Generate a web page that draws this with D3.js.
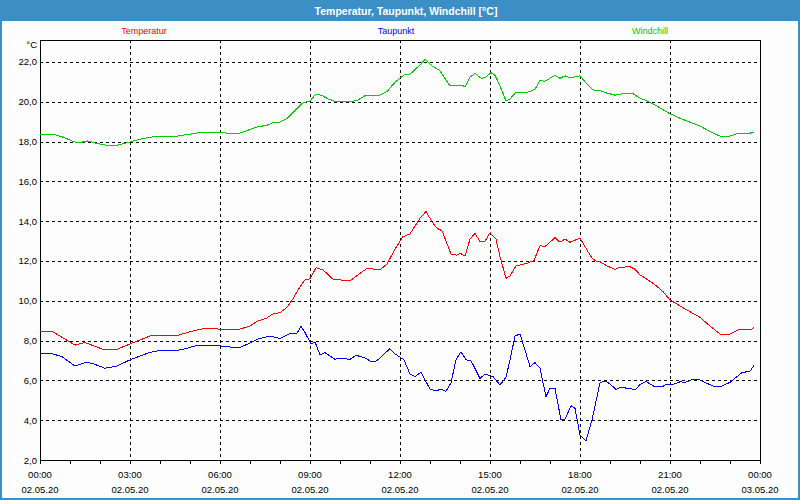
<!DOCTYPE html>
<html>
<head lang="de">
    <meta charset="UTF-8">
    <title>Temperatur, Taupunkt, Windchill</title>
    <script src="https://cdn.jsdelivr.net/npm/d3@7/dist/d3.min.js"></script>
    <style>
        body { margin: 0; background: #fff; }
        text { font-family: "Liberation Sans", Arial, sans-serif; }
    </style>
</head>
<body>

<script>

    // minutes since 02.05.20 00:00 and values in degrees C
    var tempTimes = [0,24,70,90,126,154,180,220,240,274,294,320,340,360,394,420,434,454,466,480,494,506,520,530,540,552,566,586,620,654,680,694,710,726,740,760,772,784,794,804,822,834,840,850,860,870,880,890,900,912,920,932,940,952,974,988,1000,1010,1030,1040,1050,1060,1080,1094,1104,1114,1120,1134,1150,1160,1180,1190,1200,1214,1230,1246,1260,1280,1300,1320,1340,1360,1380,1400,1420,1428];
    var temperatur = [8.47,8.47,7.77,7.9,7.56,7.56,7.83,8.23,8.25,8.25,8.4,8.57,8.62,8.57,8.53,8.73,8.97,9.14,9.34,9.4,9.67,10.1,10.7,11.05,11.1,11.66,11.55,11.08,11.0,11.63,11.55,11.85,12.59,13.22,13.36,14.15,14.48,13.97,13.64,13.52,12.35,12.29,12.39,12.25,13.09,13.39,12.97,12.99,13.42,13.09,12.22,11.13,11.25,11.75,11.88,12.02,12.77,12.72,13.17,12.94,13.1,12.94,13.14,12.55,12.14,11.96,11.96,11.75,11.58,11.68,11.71,11.58,11.3,11.08,10.8,10.46,10.04,9.74,9.45,9.17,8.73,8.33,8.33,8.57,8.53,8.65];

    var taupTimes = [0,26,44,70,92,106,130,154,180,220,240,274,294,314,340,360,386,400,414,434,460,480,502,514,522,530,542,550,560,570,590,600,620,632,650,664,674,686,700,710,728,740,750,762,770,780,790,802,812,822,832,842,852,862,880,890,906,920,932,940,950,960,970,980,990,1000,1012,1020,1030,1042,1050,1062,1070,1080,1092,1104,1114,1120,1130,1140,1152,1164,1176,1192,1200,1212,1230,1244,1250,1264,1280,1290,1306,1320,1334,1350,1360,1380,1394,1404,1420,1428];
    var taupunkt = [7.33,7.33,7.19,6.72,6.91,6.84,6.61,6.72,7.03,7.41,7.51,7.51,7.61,7.76,7.76,7.73,7.66,7.66,7.81,8.06,8.23,8.1,8.37,8.37,8.7,8.4,7.83,7.93,7.29,7.39,7.06,7.11,7.06,7.26,7.13,6.92,6.99,7.28,7.59,7.33,7.03,6.32,6.19,6.41,6.02,5.57,5.47,5.55,5.45,5.88,7.03,7.44,7.03,6.99,6.1,6.31,6.19,5.77,6.16,7.03,8.23,8.33,7.53,6.69,6.89,6.61,5.18,5.6,5.6,4.01,4.04,4.73,4.6,3.25,2.97,4.01,5.18,5.88,5.97,5.82,5.55,5.67,5.58,5.55,5.8,5.95,5.67,5.67,5.77,5.77,5.93,5.9,6.05,6.02,5.85,5.68,5.68,5.9,6.19,6.39,6.46,6.76];

    var windTimes = [0,26,46,70,84,96,114,134,154,180,200,220,246,274,300,326,360,374,400,414,434,454,466,480,494,506,520,524,540,552,564,576,590,624,636,652,680,694,710,730,740,760,770,784,800,820,834,844,850,860,870,882,890,902,910,920,932,940,952,976,990,1000,1010,1030,1040,1050,1060,1080,1094,1106,1120,1134,1150,1160,1180,1186,1200,1214,1230,1246,1260,1280,1300,1320,1340,1360,1380,1396,1420,1428];
    var windchill = [18.37,18.37,18.22,17.97,17.97,18.03,17.9,17.81,17.81,17.98,18.12,18.22,18.27,18.27,18.37,18.47,18.47,18.42,18.42,18.55,18.73,18.82,18.95,18.98,19.15,19.45,19.8,19.92,20.04,20.39,20.31,20.14,20.01,20.01,20.09,20.33,20.33,20.51,20.98,21.38,21.38,21.85,22.13,21.8,21.55,20.79,20.79,20.84,20.73,21.23,21.43,21.18,21.2,21.46,21.33,20.79,20.04,20.14,20.48,20.48,20.63,21.06,21.03,21.33,21.18,21.3,21.2,21.3,20.88,20.59,20.56,20.43,20.33,20.38,20.43,20.4,20.18,20.04,19.84,19.6,19.39,19.17,18.97,18.78,18.5,18.27,18.27,18.42,18.42,18.48];

    var seriesNames = ["Temperatur", "Taupunkt", "Windchill"];
    var seriesColors = ["#ff0000", "#0000ff", "#00cc00"];

    var xTicks = [0,180,360,540,720,900,1080,1260,1440];
    var xTimeLabels = ["00:00","03:00","06:00","09:00","12:00","15:00","18:00","21:00","00:00"];
    var xDateLabels = ["02.05.20","02.05.20","02.05.20","02.05.20","02.05.20","02.05.20","02.05.20","02.05.20","03.05.20"];
    var yTicks = [2,4,6,8,10,12,14,16,18,20,22];


    var W = 800, H = 500;
    var pLeft = 40, pRight = 760, pTop = 40, pBottom = 460;

    var x = d3.scaleLinear().domain([0, 1440]).range([pLeft, pRight]);
    var y = d3.scaleLinear().domain([2, 23.1]).range([pBottom, pTop]);

    var fmt = d3.formatLocale({decimal: ",", thousands: ".", grouping: [3], currency: ["", ""]}).format(".1f");

    var svg = d3.select("body").append("svg")
            .attr("width", W)
            .attr("height", H);

    // window frame + title bar
    svg.append("rect").attr("x", 0).attr("y", 0).attr("width", W).attr("height", H).attr("fill", "#3c8fc5");
    svg.append("rect").attr("x", 2).attr("y", 21).attr("width", W - 4).attr("height", H - 23).attr("fill", "#fcfdfc");

    svg.append("text")
            .attr("x", 406).attr("y", 14.5)
            .attr("text-anchor", "middle")
            .attr("fill", "#fff")
            .attr("font-weight", "bold")
            .attr("font-size", "10.5px")
            .text("Temperatur, Taupunkt, Windchill [°C]");

    // legend
    var legendX = [144, 396, 650];
    svg.append("g").selectAll("text")
            .data(seriesNames)
            .enter()
            .append("text")
            .attr("x", function(d, i){ return legendX[i]; })
            .attr("y", 34)
            .attr("text-anchor", "middle")
            .attr("font-size", "9px")
            .attr("fill", function(d, i){ return seriesColors[i]; })
            .text(function(d){ return d; });

    // grid
    var grid = svg.append("g")
            .attr("stroke", "#000")
            .attr("stroke-width", 1)
            .attr("stroke-dasharray", "3,3")
            .attr("shape-rendering", "crispEdges");

    grid.selectAll("line.h")
            .data(yTicks.filter(function(d){ return d > 2; }))
            .enter()
            .append("line")
            .attr("x1", pLeft).attr("x2", pRight)
            .attr("y1", function(d){ return Math.round(y(d)) + 0.5; })
            .attr("y2", function(d){ return Math.round(y(d)) + 0.5; });

    grid.selectAll("line.v")
            .data(xTicks.slice(1, -1))
            .enter()
            .append("line")
            .attr("y1", pTop).attr("y2", pBottom)
            .attr("x1", function(d){ return Math.round(x(d)) + 0.5; })
            .attr("x2", function(d){ return Math.round(x(d)) + 0.5; });

    // plot box
    svg.append("rect")
            .attr("x", pLeft + 0.5).attr("y", pTop + 0.5)
            .attr("width", pRight - pLeft).attr("height", pBottom - pTop)
            .attr("fill", "none")
            .attr("stroke", "#000")
            .attr("shape-rendering", "crispEdges");

    // hourly ticks under the axis
    svg.append("g").selectAll("line")
            .data(d3.range(0, 1441, 60))
            .enter()
            .append("line")
            .attr("x1", function(d){ return Math.round(x(d)) + 0.5; })
            .attr("x2", function(d){ return Math.round(x(d)) + 0.5; })
            .attr("y1", pBottom).attr("y2", pBottom + 4)
            .attr("stroke", "#000")
            .attr("shape-rendering", "crispEdges");

    // y labels
    svg.append("g").selectAll("text")
            .data(yTicks)
            .enter()
            .append("text")
            .attr("x", 37)
            .attr("y", function(d){ return y(d) + 3.5; })
            .attr("text-anchor", "end")
            .attr("font-size", "9.5px")
            .attr("fill", "#000")
            .text(function(d){ return fmt(d); });

    svg.append("text")
            .attr("x", 37).attr("y", 47.5)
            .attr("text-anchor", "end")
            .attr("font-size", "9.5px")
            .text("°C");

    // x labels
    var xl = svg.append("g").selectAll("g")
            .data(xTicks)
            .enter()
            .append("g")
            .attr("transform", function(d){ return "translate(" + x(d) + ",0)"; });

    xl.append("text")
            .attr("y", 477.5)
            .attr("text-anchor", "middle")
            .attr("font-size", "9.5px")
            .text(function(d, i){ return xTimeLabels[i]; });

    xl.append("text")
            .attr("y", 492.5)
            .attr("text-anchor", "middle")
            .attr("font-size", "9.5px")
            .text(function(d, i){ return xDateLabels[i]; });

    // series
    function pairs(times, vals){
        return times.map(function(t, i){ return {t: t, v: vals[i]}; });
    }

    var series = [pairs(tempTimes, temperatur), pairs(taupTimes, taupunkt), pairs(windTimes, windchill)];

    var line = d3.line()
            .x(function(d){ return x(d.t); })
            .y(function(d){ return y(d.v); });

    svg.append("g").selectAll("path")
            .data(series)
            .enter()
            .append("path")
            .attr("d", line)
            .attr("fill", "none")
            .attr("stroke", function(d, i){ return seriesColors[i]; })
            .attr("stroke-width", 1)
            .attr("shape-rendering", "crispEdges");

</script>
</body>
</html>
